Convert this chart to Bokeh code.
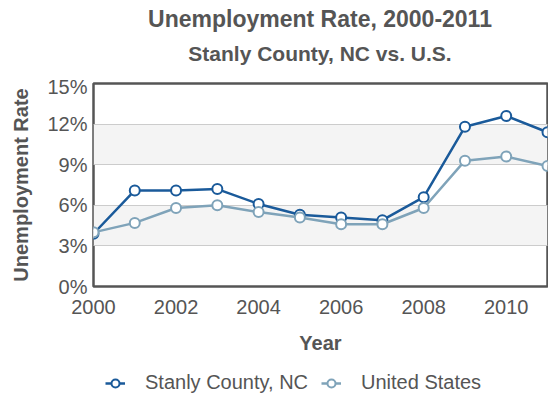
from bokeh.plotting import figure
from bokeh.layouts import column
from bokeh.models import (Label, Legend, LegendItem, FixedTicker,
                          PrintfTickFormatter, Range1d)
from bokeh.embed import file_html
from bokeh.resources import INLINE

years = [2000, 2001, 2002, 2003, 2004, 2005, 2006, 2007, 2008, 2009, 2010, 2011]
stanly = [3.9, 7.1, 7.1, 7.2, 6.1, 5.3, 5.1, 4.9, 6.6, 11.8, 12.6, 11.4]
us = [4.0, 4.7, 5.8, 6.0, 5.5, 5.1, 4.6, 4.6, 5.8, 9.3, 9.6, 8.9]
x_ticks = [2000, 2002, 2004, 2006, 2008, 2010]
y_ticks = [0, 3, 6, 9, 12, 15]

title_text = "Unemployment Rate, 2000-2011"
subtitle_text = "Stanly County, NC vs. U.S."
series_names = ["Stanly County, NC", "United States"]
colors = ["#1a5a9a", "#7fa3b9"]

FONT = "Liberation Sans"
TXT = "#555555"


def bare(height):
    f = figure(width=548, height=height, x_range=Range1d(0, 1),
               y_range=Range1d(0, 1), output_backend="svg",
               toolbar_location=None, x_axis_location=None,
               y_axis_location=None, min_border=0)
    f.outline_line_color = None
    f.grid.grid_line_color = None
    return f


# ---- header with title and subtitle (frames of the column are aligned,
#      so screen x is measured from the chart frame's left edge)
head = bare(75)
head.add_layout(Label(x=226.5, y=57, x_units="screen", y_units="screen",
                      text=title_text, text_align="center",
                      text_baseline="middle", text_font=FONT,
                      text_font_size="23px", text_font_style="bold",
                      text_color=TXT))
head.add_layout(Label(x=226.5, y=22, x_units="screen", y_units="screen",
                      text=subtitle_text, text_align="center",
                      text_baseline="middle", text_font=FONT,
                      text_font_size="21px", text_font_style="bold",
                      text_color=TXT))

# ---- main chart
p = figure(width=548, height=290, title=None,
           x_range=Range1d(2000, 2011), y_range=Range1d(0, 15),
           output_backend="svg", toolbar_location=None,
           min_border_left=93, min_border_right=1,
           min_border_top=8, min_border_bottom=79)

p.outline_line_color = "#555555"
p.outline_line_width = 2.5

p.xgrid.grid_line_color = None
p.ygrid.ticker = FixedTicker(ticks=y_ticks)
p.ygrid.grid_line_color = "#cccccc"
p.ygrid.grid_line_width = 1
p.ygrid.band_fill_color = "#f4f4f4"
p.ygrid.band_fill_alpha = 1.0

for ax in (p.xaxis[0], p.yaxis[0]):
    ax.axis_line_color = None
    ax.major_tick_line_color = None
    ax.minor_tick_line_color = None
    ax.major_tick_out = 0
    ax.major_tick_in = 0
    ax.major_label_text_font = FONT
    ax.major_label_text_font_size = "20px"
    ax.major_label_text_color = TXT
    ax.axis_label_text_font = FONT
    ax.axis_label_text_font_size = "20px"
    ax.axis_label_text_font_style = "bold"
    ax.axis_label_text_color = TXT

p.xaxis.ticker = FixedTicker(ticks=x_ticks)
p.xaxis.axis_label = "Year"
p.xaxis.major_label_standoff = 13
p.xaxis.axis_label_standoff = 15

p.yaxis.ticker = FixedTicker(ticks=y_ticks)
p.yaxis.formatter = PrintfTickFormatter(format="%d%%")
p.yaxis.axis_label = "Unemployment Rate"
p.yaxis.major_label_standoff = 6
p.yaxis.axis_label_standoff = 12

for vals, col in zip([stanly, us], colors):
    p.line(years, vals, line_color=col, line_width=2.5)
    p.scatter(years, vals, size=10, marker="circle", fill_color="white",
              line_color=col, line_width=2)

# ---- legend strip (its series lie outside this strip's 0..1 ranges,
#      so only their legend swatches are visible)
leg = bare(29)
items = []
for vals, name, col in zip([stanly, us], series_names, colors):
    ln = leg.line(years, vals, line_color=col, line_width=2.5)
    sc = leg.scatter(years, vals, size=10, marker="circle",
                     fill_color="white", line_color=col, line_width=2)
    items.append(LegendItem(label=name, renderers=[ln, sc]))

legend = Legend(items=items, orientation="horizontal", location=(12, 0),
                label_text_font=FONT, label_text_font_size="20px",
                label_text_color=TXT, glyph_width=20, glyph_height=20,
                label_height=20, label_standoff=20,
                spacing=13, border_line_color=None, background_fill_alpha=0,
                padding=0, margin=0)
leg.add_layout(legend, "center")

layout = column(head, p, leg, spacing=0)
open("out.html", "w").write(file_html(layout, INLINE))
